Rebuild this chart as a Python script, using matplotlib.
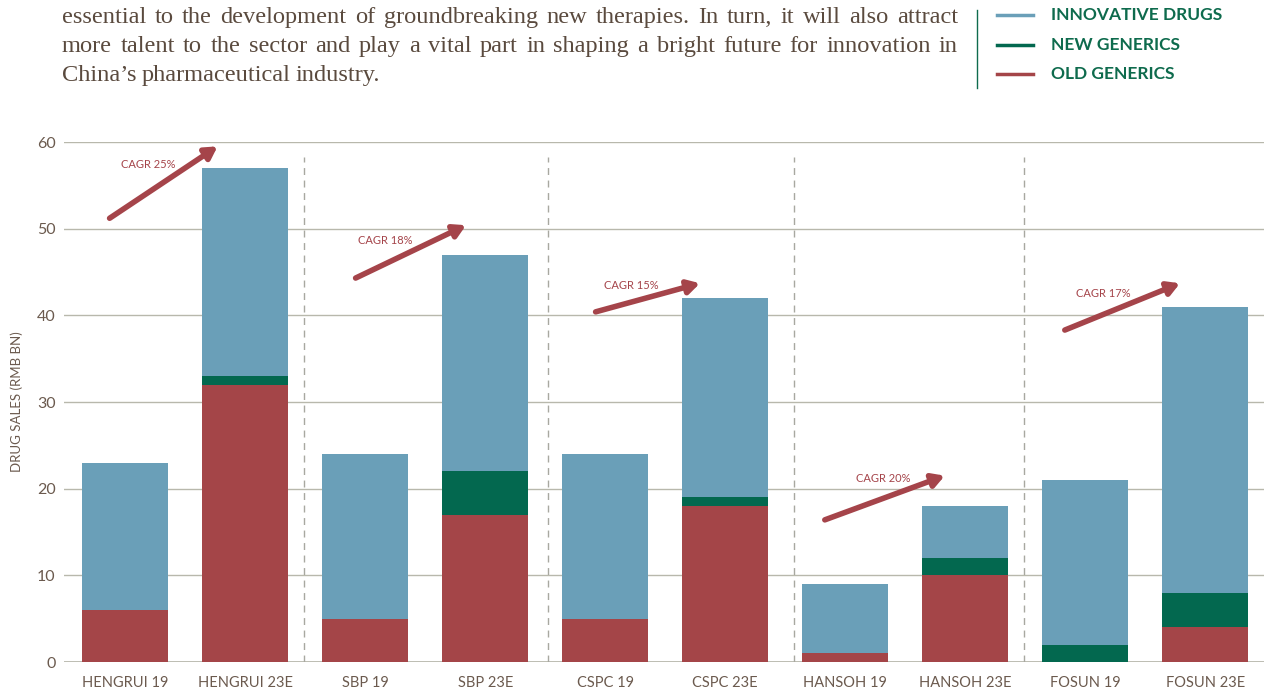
import matplotlib
matplotlib.use("Agg")
import matplotlib.pyplot as plt
import numpy as np

# data (RMB bn)
companies = ["HENGRUI 19", "HENGRUI 23E", "SBP 19", "SBP 23E", "CSPC 19",
             "CSPC 23E", "HANSOH 19", "HANSOH 23E", "FOSUN 19", "FOSUN 23E"]
old_generics = [6, 32, 5, 17, 5, 18, 1, 10, 0, 4]
new_generics = [0, 1, 0, 5, 0, 1, 0, 2, 2, 4]
innovative = [17, 24, 19, 25, 19, 23, 8, 6, 19, 33]
cagr_labels = ["CAGR 25%", "CAGR 18%", "CAGR 15%", "CAGR 20%", "CAGR 17%"]

# arrow annotations: (x0, y0, x1, y1), label position
arrows = [(-0.13, 51.2, 0.77, 59.5), (1.92, 44.3, 2.84, 50.4),
          (3.92, 40.4, 4.79, 43.7), (5.83, 16.4, 6.83, 21.5),
          (7.83, 38.3, 8.79, 43.7)]
label_pos = [(0.19, 57.4), (2.17, 48.6), (4.22, 43.4), (6.32, 21.2), (8.15, 42.5)]
separators = [1.49, 3.52, 5.57, 7.49]

c_innov = "#6a9fb8"
c_new = "#03684f"
c_old = "#a44548"
c_text = "#6b5a4e"
c_legend = "#0e6b4d"

W, H = 1264, 698
fig = plt.figure(figsize=(W / 100, H / 100), dpi=100)
ax = fig.add_axes([64 / W, 1 - 662 / H, 1200 / W, 520 / H])

x = np.arange(len(companies))
old = np.array(old_generics)
new = np.array(new_generics)
inn = np.array(innovative)
bw = 0.72
ax.bar(x, old, bw, color=c_old, zorder=3)
ax.bar(x, new, bw, bottom=old, color=c_new, zorder=3)
ax.bar(x, inn, bw, bottom=old + new, color=c_innov, zorder=3)

ax.set_xlim(-0.51, 9.49)
ax.set_ylim(0, 60)
ax.set_yticks(range(0, 61, 10))
for yv in range(0, 61, 10):
    ax.axhline(yv, color="#b8b8ac", lw=1.3 if yv == 0 else 1.0, zorder=1)
for s in separators:
    ax.plot([s, s], [0, 58.3], color="#a8a8a0", lw=1, ls=(0, (5, 4)), zorder=1)

for sp in ax.spines.values():
    sp.set_visible(False)
ax.tick_params(length=0, colors=c_text, labelsize=11.5)
ax.tick_params(axis="y", pad=6)
ax.tick_params(axis="x", pad=10)
ax.set_xticks(x)
ax.set_xticklabels(companies, fontsize=10.5, family="Lato")
for t in ax.get_yticklabels():
    t.set_family("Lato")
ax.set_ylabel("DRUG SALES (RMB BN)", fontsize=9.5, color=c_text, family="Lato",
              labelpad=10)

for (x0, y0, x1, y1), (lx, ly), lab in zip(arrows, label_pos, cagr_labels):
    ax.annotate("", xy=(x1, y1), xytext=(x0, y0),
                arrowprops=dict(arrowstyle="-|>,head_length=0.7,head_width=0.4",
                                color="#a5444a", lw=4, shrinkA=0, shrinkB=0),
                annotation_clip=False, zorder=5)
    ax.text(lx, ly, lab, fontsize=8, color="#a5444a", ha="center", va="center",
            family="Lato")

# paragraph text (justified)
para = ["essential to the development of groundbreaking new therapies. In turn, it will also attract",
        "more talent to the sector and play a vital part in shaping a bright future for innovation in",
        "China\u2019s pharmaceutical industry."]
baselines = [23, 52, 81]
r = fig.canvas.get_renderer()
for i, (line, yb) in enumerate(zip(para, baselines)):
    words = line.split(" ")
    objs = [fig.text(0, 1 - yb / H, w, fontsize=17.6, family="Liberation Serif",
                     color="#5a4a3e", va="baseline") for w in words]
    widths = [o.get_window_extent(r).width for o in objs]
    if i < len(para) - 1:
        gap = (958 - 62 - sum(widths)) / (len(words) - 1)
    else:
        gap = 5
    xp = 62
    for o, w in zip(objs, widths):
        o.set_x(xp / W)
        xp += w + gap

# legend
fig.add_artist(plt.Line2D([977 / W, 977 / W], [1 - 10 / H, 1 - 88 / H],
                          color=c_legend, lw=1))
leg_items = [("INNOVATIVE DRUGS", c_innov), ("NEW GENERICS", c_new),
             ("OLD GENERICS", c_old)]
for (lab, c), yp in zip(leg_items, [15, 45, 74]):
    fig.add_artist(plt.Line2D([997 / W, 1033 / W], [1 - yp / H, 1 - yp / H],
                              color=c, lw=2.5))
    fig.text(1051 / W, 1 - yp / H, lab, fontsize=12.5, color=c_legend,
             family="Lato", weight="bold", va="center")

fig.savefig("out.png", dpi=100)
